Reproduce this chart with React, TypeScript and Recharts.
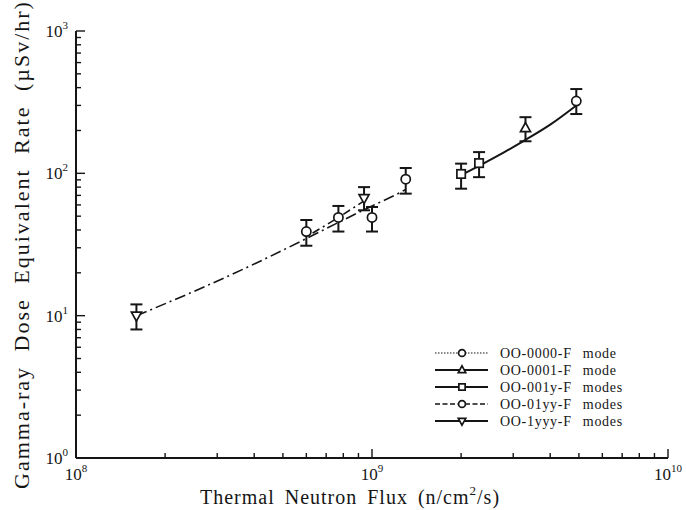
import {
  ComposedChart,
  Scatter,
  XAxis,
  YAxis,
  ErrorBar,
  Legend,
  Label,
} from 'recharts';

// measured points: x = flux, y = dose rate, lo/hi = error bar ends
const s0000X = [1.0e9, 1.3e9, 4.9e9];
const s0000Y = [49, 91, 322];
const s0000Lo = [39, 72, 261];
const s0000Hi = [58, 109, 391];

const s0001X = [3.3e9];
const s0001Y = [208];
const s0001Lo = [168];
const s0001Hi = [248];

const s001yX = [2.0e9, 2.3e9];
const s001yY = [99, 118];
const s001yLo = [78, 94];
const s001yHi = [117, 141];

const s01yyX = [6.0e8, 7.7e8];
const s01yyY = [39, 49];
const s01yyLo = [31, 39];
const s01yyHi = [47, 59];

const s1yyyX = [1.6e8, 9.4e8];
const s1yyyY = [10, 67];
const s1yyyLo = [8, 55];
const s1yyyHi = [12, 80];

// fitted curves
const fitLowX = [1.6e8, 2.5e8, 3.9e8, 5.7e8, 8.0e8, 1.0e9, 1.24e9, 1.3e9];
const fitLowY = [10, 14.8, 22.5, 33, 47, 59, 73, 77];
const fitBranchX = [6.3e8, 7.7e8, 9.4e8];
const fitBranchY = [38, 49, 64];
const fitHighX = [2.0e9, 2.3e9, 2.8e9, 3.3e9, 4.0e9, 4.9e9];
const fitHighY = [97, 113, 141, 172, 220, 300];

const X_MAJOR = [1e8, 1e9, 1e10];
const Y_MAJOR = [1, 10, 100, 1000];
const MINOR_STEPS = [2, 3, 4, 5, 6, 7, 8, 9];

const legendNames = [
  'OO-0000-F mode',
  'OO-0001-F mode',
  'OO-001y-F modes',
  'OO-01yy-F modes',
  'OO-1yyy-F modes',
];

const FONT = '"Liberation Serif", "DejaVu Serif", serif';
const INK = '#151515';

const xTicks = [
  ...X_MAJOR,
  ...X_MAJOR.slice(0, -1).flatMap((d) => MINOR_STEPS.map((m) => d * m)),
].sort((a, b) => a - b);
const yTicks = [
  ...Y_MAJOR,
  ...Y_MAJOR.slice(0, -1).flatMap((d) => MINOR_STEPS.map((m) => d * m)),
].sort((a, b) => a - b);

const points = (xs: number[], ys: number[], lo: number[], hi: number[]) =>
  xs.map((x, i) => ({ x, y: ys[i], err: [ys[i] - lo[i], hi[i] - ys[i]] }));
const curve = (xs: number[], ys: number[]) => xs.map((x, i) => ({ x, y: ys[i] }));

type Kind = 'circle' | 'up' | 'square' | 'down';

function Marker({ cx, cy, kind, s = 1 }: { cx: number; cy: number; kind: Kind; s?: number }) {
  const st = { fill: '#fff', stroke: INK, strokeWidth: 1.7 };
  if (kind === 'circle') return <circle cx={cx} cy={cy} r={4.6 * s} {...st} />;
  if (kind === 'square')
    return <rect x={cx - 4.2 * s} y={cy - 4.2 * s} width={8.4 * s} height={8.4 * s} {...st} />;
  if (kind === 'up')
    return <path d={`M${cx},${cy - 5.5 * s}L${cx + 5 * s},${cy + 3.5 * s}L${cx - 5 * s},${cy + 3.5 * s}Z`} {...st} />;
  return <path d={`M${cx},${cy + 5.5 * s}L${cx + 5 * s},${cy - 3.5 * s}L${cx - 5 * s},${cy - 3.5 * s}Z`} {...st} />;
}

const shapeOf = (kind: Kind) => (p: any) => <Marker cx={p.cx} cy={p.cy} kind={kind} />;
const noShape = () => <g />;

const exp = (v: number) => Math.round(Math.log10(v));

function BottomTick(props: any) {
  const { x, y, payload } = props;
  const major = X_MAJOR.includes(payload.value);
  return (
    <g>
      <line x1={x} x2={x} y1={y} y2={y - (major ? 9 : 5)} stroke={INK} strokeWidth={1.4} />
      {major && (
        <text x={x} y={y + 22} textAnchor="middle" fontFamily={FONT} fontSize={17} fill={INK}>
          10
          <tspan dy={-8} fontSize={11}>{exp(payload.value)}</tspan>
        </text>
      )}
    </g>
  );
}

function TopTick(props: any) {
  const { x, y, payload } = props;
  const major = X_MAJOR.includes(payload.value);
  return <line x1={x} x2={x} y1={y} y2={y + (major ? 9 : 5)} stroke={INK} strokeWidth={1.4} />;
}

function LeftTick(props: any) {
  const { x, y, payload } = props;
  const major = Y_MAJOR.includes(payload.value);
  return (
    <g>
      <line x1={x} x2={x + (major ? 9 : 5)} y1={y} y2={y} stroke={INK} strokeWidth={1.4} />
      {major && (
        <text x={x - 8} y={y + 6} textAnchor="end" fontFamily={FONT} fontSize={17} fill={INK}>
          10
          <tspan dy={-8} fontSize={11}>{exp(payload.value)}</tspan>
        </text>
      )}
    </g>
  );
}

function RightTick(props: any) {
  const { x, y, payload } = props;
  const major = Y_MAJOR.includes(payload.value);
  return <line x1={x} x2={x - (major ? 9 : 5)} y1={y} y2={y} stroke={INK} strokeWidth={1.4} />;
}

const legendStyles = [
  { dash: '1.5 1.5', w: 1.2, kind: 'circle' as Kind },
  { dash: undefined, w: 2, kind: 'up' as Kind },
  { dash: undefined, w: 2, kind: 'square' as Kind },
  { dash: '5 2.5', w: 1.6, kind: 'circle' as Kind },
  { dash: undefined, w: 2, kind: 'down' as Kind },
];

function LegendBox() {
  return (
    <svg width={230} height={92}>
      {legendNames.map((name, i) => {
        const y = 10 + i * 17;
        const st = legendStyles[i];
        return (
          <g key={name}>
            <line x1={5} x2={58} y1={y} y2={y} stroke={INK} strokeWidth={st.w} strokeDasharray={st.dash} />
            <Marker cx={32} cy={y} kind={st.kind} s={0.75} />
            <text x={70} y={y + 5} fontFamily={FONT} fontSize={14} fill={INK} wordSpacing={7} letterSpacing={0.7}>
              {name}
            </text>
          </g>
        );
      })}
    </svg>
  );
}

export default function App() {
  const axisLine = { stroke: INK, strokeWidth: 2 };
  return (
    <div style={{ position: 'absolute', left: 0, top: 0, background: '#fff' }}>
      <ComposedChart width={686} height={510} margin={{ top: 31, right: 18, bottom: 0, left: 0 }}>
        <XAxis
          xAxisId="b"
          dataKey="x"
          type="number"
          scale="log"
          domain={[1e8, 1e10]}
          allowDataOverflow
          ticks={xTicks}
          interval={0}
          tickSize={0}
          tickMargin={0}
          tickLine={false}
          tick={BottomTick}
          axisLine={axisLine}
          height={52}
        >
          <Label
            content={(p: any) => {
              const vb = p.viewBox;
              return (
                <text
                  x={vb.x + vb.width / 2 - 22}
                  y={vb.y + 46}
                  textAnchor="middle"
                  fontFamily={FONT}
                  fontSize={20}
                  letterSpacing={1}
                  wordSpacing={4}
                  fill={INK}
                >
                  Thermal Neutron Flux (n/cm
                  <tspan dy={-9} fontSize={13}>2</tspan>
                  <tspan dy={9}>/s)</tspan>
                </text>
              );
            }}
          />
        </XAxis>
        <XAxis
          xAxisId="t"
          orientation="top"
          dataKey="x"
          type="number"
          scale="log"
          domain={[1e8, 1e10]}
          allowDataOverflow
          ticks={xTicks}
          interval={0}
          tickSize={0}
          tickMargin={0}
          tickLine={false}
          tick={TopTick}
          axisLine={axisLine}
          height={0}
        />
        <YAxis
          yAxisId="l"
          type="number"
          scale="log"
          domain={[1, 1000]}
          allowDataOverflow
          ticks={yTicks}
          interval={0}
          tickSize={0}
          tickMargin={0}
          tickLine={false}
          tick={LeftTick}
          axisLine={axisLine}
          width={76}
        >
          <Label
            content={(p: any) => {
              const vb = p.viewBox;
              const cy = vb.y + vb.height / 2;
              return (
                <text
                  x={21}
                  y={cy}
                  transform={`rotate(-90 21 ${cy})`}
                  textAnchor="middle"
                  dominantBaseline="central"
                  fontFamily={FONT}
                  fontSize={22}
                  letterSpacing={2}
                  wordSpacing={7}
                  fill={INK}
                >
                  Gamma-ray Dose Equivalent Rate (µSv/hr)
                </text>
              );
            }}
          />
        </YAxis>
        <YAxis
          yAxisId="r"
          orientation="right"
          type="number"
          scale="log"
          domain={[1, 1000]}
          allowDataOverflow
          ticks={yTicks}
          interval={0}
          tickSize={0}
          tickMargin={0}
          tickLine={false}
          tick={RightTick}
          axisLine={axisLine}
          width={0}
        />

        <Scatter
          xAxisId="b"
          yAxisId="l"
          data={curve(fitLowX, fitLowY)}
          dataKey="y"
          fill="none"
          line={{ stroke: INK, strokeWidth: 1.6, strokeDasharray: '11 4 2 4' }}
          lineJointType="monotoneX"
          shape={noShape}
          isAnimationActive={false}
          legendType="none"
        />
        <Scatter
          xAxisId="b"
          yAxisId="l"
          data={curve(fitBranchX, fitBranchY)}
          dataKey="y"
          fill="none"
          line={{ stroke: INK, strokeWidth: 1.6, strokeDasharray: '8 4 2 4' }}
          lineJointType="monotoneX"
          shape={noShape}
          isAnimationActive={false}
          legendType="none"
        />
        <Scatter
          xAxisId="b"
          yAxisId="l"
          data={curve(fitHighX, fitHighY)}
          dataKey="y"
          fill="none"
          line={{ stroke: INK, strokeWidth: 2 }}
          lineJointType="monotoneX"
          shape={noShape}
          isAnimationActive={false}
          legendType="none"
        />

        {[
          { d: points(s0000X, s0000Y, s0000Lo, s0000Hi), k: 'circle' as Kind },
          { d: points(s0001X, s0001Y, s0001Lo, s0001Hi), k: 'up' as Kind },
          { d: points(s001yX, s001yY, s001yLo, s001yHi), k: 'square' as Kind },
          { d: points(s01yyX, s01yyY, s01yyLo, s01yyHi), k: 'circle' as Kind },
          { d: points(s1yyyX, s1yyyY, s1yyyLo, s1yyyHi), k: 'down' as Kind },
        ].map((s, i) => (
          <Scatter
            key={i}
            xAxisId="b"
            yAxisId="l"
            data={s.d}
            dataKey="y"
            fill="#fff"
            shape={shapeOf(s.k)}
            isAnimationActive={false}
            legendType="none"
          >
            <ErrorBar dataKey="err" direction="y" width={6} stroke={INK} strokeWidth={2} isAnimationActive={false} />
          </Scatter>
        ))}

        <Legend
          layout="vertical"
          align="center"
          verticalAlign="middle"
          wrapperStyle={{ left: 430, top: 343, width: 230, height: 92 }}
          content={() => <LegendBox />}
        />
      </ComposedChart>
    </div>
  );
}
